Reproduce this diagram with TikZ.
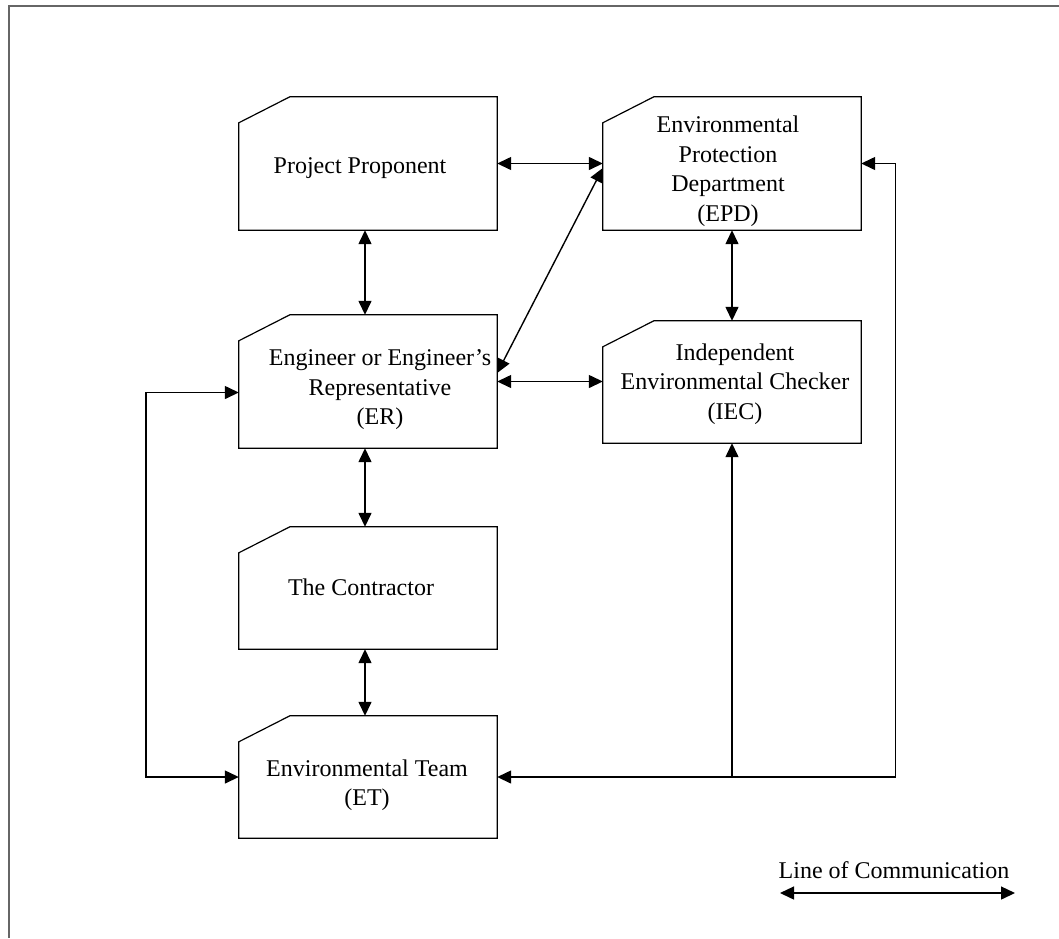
\documentclass[tikz,border=0pt]{standalone}
\usepackage{fontspec}
\setmainfont{Liberation Serif}
\usetikzlibrary{arrows.meta,calc}
\tikzset{
  box/.style={rectangle, draw=none, inner sep=0pt, minimum width=258pt},
  tall/.style={box, minimum height=133pt},
  short/.style={box, minimum height=122pt},
  lbl/.style={align=center, inner sep=0pt, font=\fontsize{24}{29.5}\selectfont},
  outline/.style={draw=black, line width=1.2pt, line join=miter},
  link/.style={draw=black, line width=1.4pt, {Triangle[length=14pt,width=13pt]}-{Triangle[length=14pt,width=13pt]}},
  onelink/.style={draw=black, line width=1.4pt, -{Triangle[length=14pt,width=13pt]}},
  frame/.style={draw=black!60, line width=2pt}
}
\newcommand{\cutbox}[1]{%
  \draw[outline] ($(#1.north west)+(51,0)$) -- ($(#1.north west)+(0,26)$) -- (#1.south west) -- (#1.south east) -- (#1.north east) -- cycle;}
\begin{document}
\begin{tikzpicture}[x=1pt,y=-1pt]
\useasboundingbox (0,0) rectangle (1059,938);
\draw[frame] (9,938) -- (9,6) -- (1059,6);

% boxes
\node[tall]  (pp)  at (368,163.5) {};
\node[tall]  (epd) at (732,163.5) {};
\node[tall]  (er)  at (368,381.5) {};
\node[short] (iec) at (732,382) {};
\node[short] (con) at (368,588) {};
\node[short] (et)  at (368,777) {};
\foreach \b in {pp,epd,er,iec,con,et} {\cutbox{\b}}

% texts
\node[lbl] (pptx)  at (360,168) {Project Proponent};
\node[lbl] (ertx)  at (380,390) {Engineer or Engineer’s\\Representative\\(ER)};
\node[lbl] (epdtx) at (728,171) {Environmental\\Protection\\Department\\(EPD)};
\node[lbl] (iectx) at (735,384) {Independent\\Environmental Checker\\(IEC)};
\node[lbl] (contx) at (361,587) {The Contractor};
\node[lbl] (ettx)  at (367,785) {Environmental Team\\(ET)};

% connectors
\draw[link] (pp.east) -- (epd.west);
\draw[link] ([xshift=-3pt]pp.south) -- ([xshift=-3pt]er.north);
\draw[link] (epd.south) -- (epd.south |- iec.north);
\draw[link] ([yshift=8.5pt]er.east) -- ([yshift=-4.5pt]epd.west);
\draw[link] (er.east) -- (er.east -| iec.west);
\draw[link] ([xshift=-3pt]er.south) -- ([xshift=-3pt]con.north);
\draw[link] ([xshift=-3pt]con.south) -- ([xshift=-3pt]et.north);
\draw[link] ([yshift=-11pt]er.west) -- ++(-93,0) |- (et.west);
\draw[link] (et.east) -- ++(398,0) |- (epd.east);
\coordinate (jn) at (iec.south |- et.east);
\draw[onelink] (jn) -- (iec.south);

% legend
\node[lbl, anchor=base] (legtx) at (894,878) {Line of Communication};
\coordinate (lga) at (780,893);
\coordinate (lgb) at (1015,893);
\draw[link] (lga) -- (lgb);
\end{tikzpicture}
\end{document}
